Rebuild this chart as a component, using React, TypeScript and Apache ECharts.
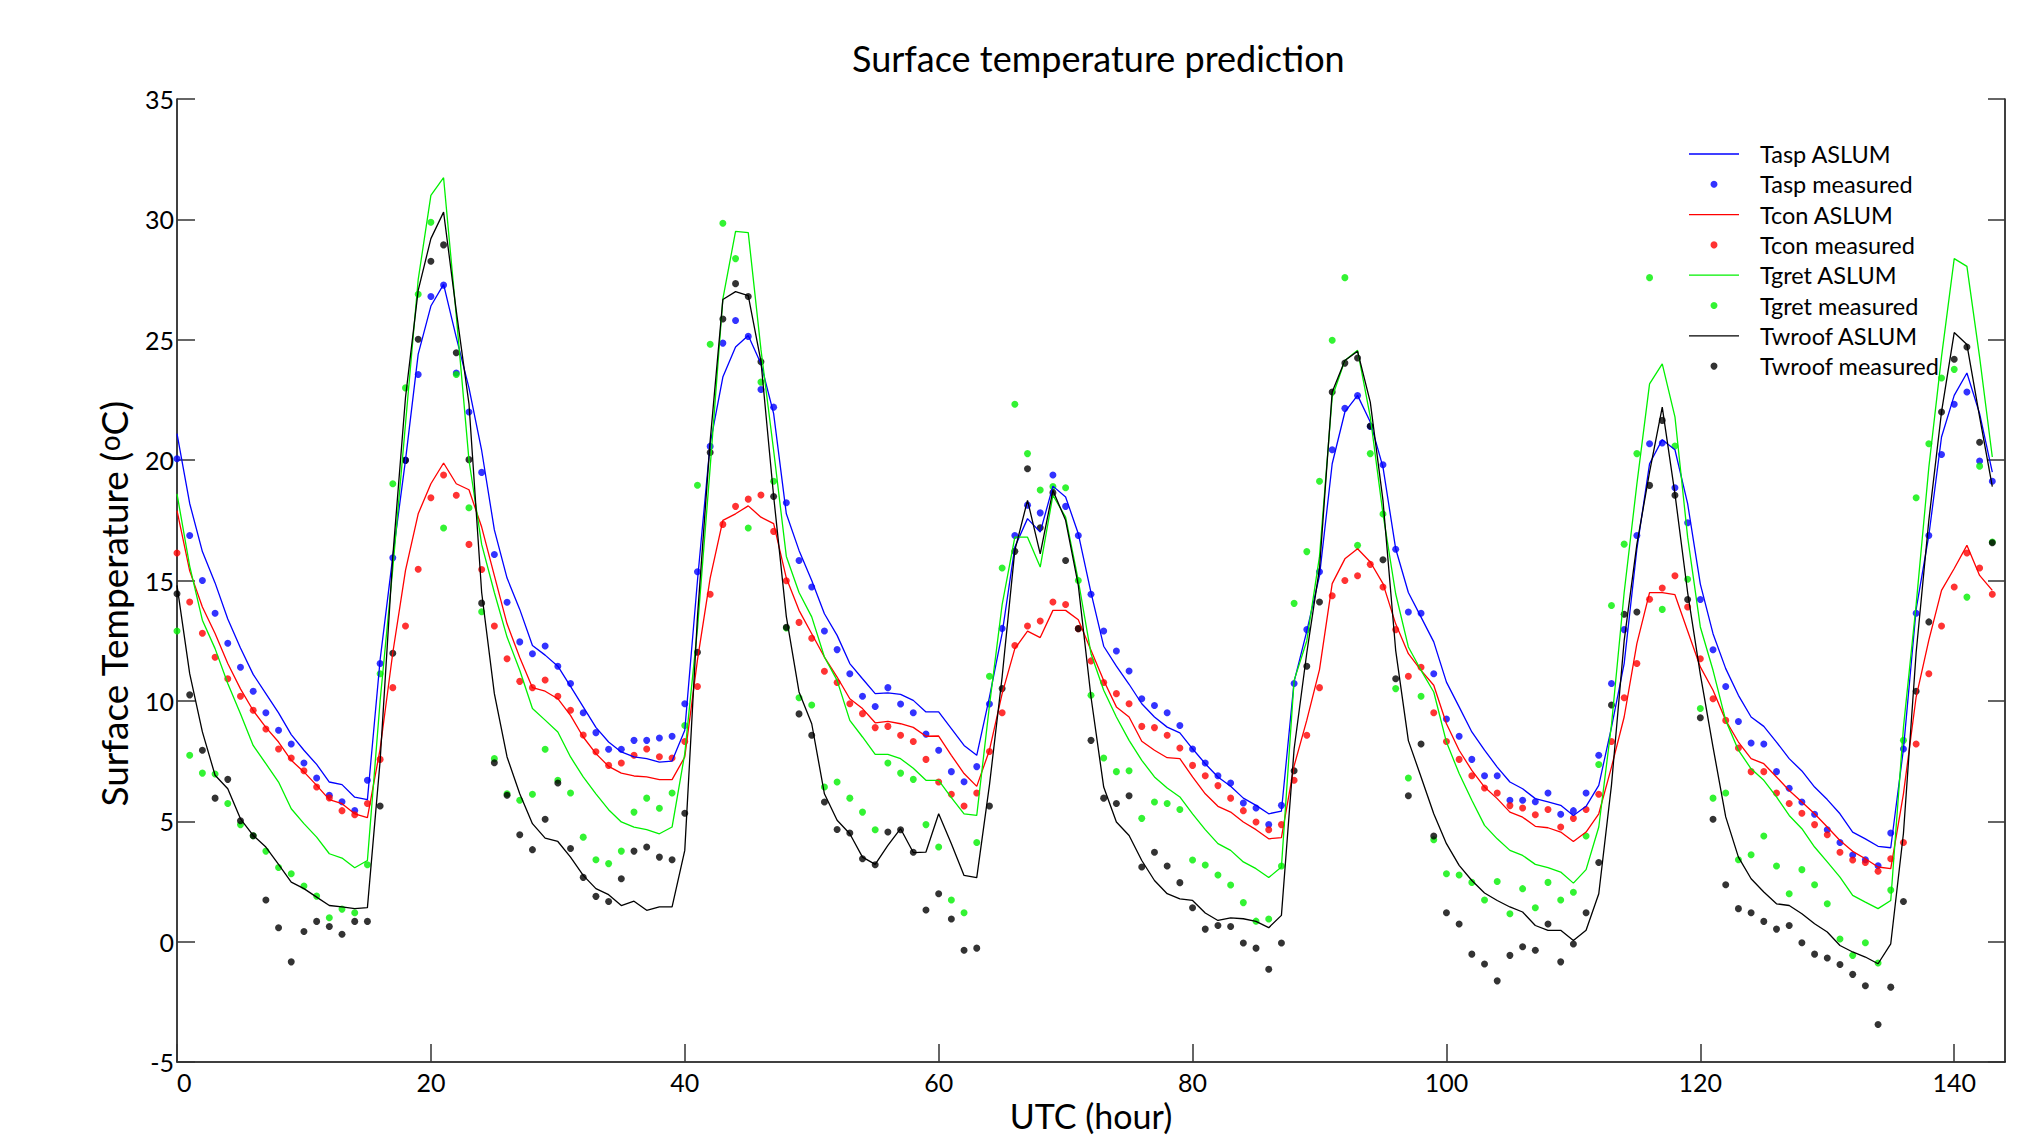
import React, { useEffect, useRef } from "react";
import * as echarts from "echarts";

// hour index 0..143
const hours: number[] = Array.from({ length: 144 }, (_, i) => i);

const xTicks = [0, 20, 40, 60, 80, 100, 120, 140];
const yTicks = [-5, 0, 5, 10, 15, 20, 25, 30, 35];

const taspAslum = [
  21.1, 18.2, 16.2, 14.9, 13.4, 12.2, 11.1, 10.3, 9.5, 8.6,
  7.95, 7.36, 6.63, 6.52, 6.0, 5.9, 11.7, 16.0, 20.0, 24.4,
  26.4, 27.3, 25.1, 23.0, 20.4, 17.1, 15.1, 13.8, 12.3, 11.9,
  11.44, 10.6, 9.75, 8.9, 8.29, 7.88, 7.67, 7.6, 7.46, 7.5,
  8.78, 15.0, 20.68, 23.45, 24.7, 25.18, 24.0, 21.93, 17.77, 16.25,
  15.0, 13.62, 12.72, 11.55, 10.92, 10.3, 10.33, 10.27, 10.02, 9.54,
  9.54, 8.85, 8.15, 7.74, 10.16, 12.8, 16.39, 17.57, 17.01, 18.92,
  18.47, 16.94, 14.5, 12.27, 11.44, 10.69, 9.88, 9.33, 8.91, 8.67,
  8.01, 7.39, 6.84, 6.45, 5.96, 5.66, 5.31, 5.42, 10.8, 12.9,
  15.2, 19.85, 22.0, 22.69, 21.58, 19.71, 16.32, 14.5, 13.48, 12.45,
  10.78, 9.75, 8.71, 7.95, 7.25, 6.63, 6.35, 5.94, 5.8, 5.66,
  5.24, 5.62, 6.49, 8.9, 11.55, 16.3, 19.85, 20.85, 20.43, 18.19,
  14.85, 12.79, 11.34, 10.23, 9.33, 8.94, 8.29, 7.6, 7.09, 6.42,
  5.9, 5.31, 4.55, 4.27, 3.96, 3.9, 8.0, 13.8, 16.87, 20.96,
  22.69, 23.62, 21.93, 19.5,
];

const taspMeasured = [
  20.06, 16.87, 15.0, 13.64, 12.39, 11.4, 10.4, 9.51, 8.78, 8.21,
  7.42, 6.8, 6.08, 5.81, 5.45, 6.7, 11.55, 15.94, 20.0, 23.56,
  26.8, 27.27, 23.62, 22.0, 19.49, 16.08, 14.1, 12.45, 11.96, 12.28,
  11.44, 10.72, 9.51, 8.68, 7.99, 7.99, 8.36, 8.36, 8.46, 8.53,
  9.88, 15.36, 20.57, 24.86, 25.8, 25.14, 22.93, 22.2, 18.23, 15.83,
  14.73, 12.9, 12.13, 11.13, 10.19, 9.77, 10.55, 9.87, 9.51, 8.62,
  7.95, 7.06, 6.64, 7.27, 9.87, 13.01, 16.87, 18.13, 17.81, 19.38,
  18.08, 16.87, 14.43, 12.9, 12.07, 11.24, 10.09, 9.81, 9.51, 8.98,
  8.0, 7.42, 6.89, 6.59, 5.76, 5.55, 4.86, 5.66, 10.72, 12.96,
  15.36, 20.43, 22.15, 22.68, 21.4, 19.81, 16.3, 13.69, 13.64, 11.13,
  9.25, 8.53, 7.57, 6.89, 6.89, 5.87, 5.87, 5.81, 6.17, 5.29,
  5.44, 6.17, 7.74, 10.72, 12.96, 16.87, 20.68, 20.71, 18.85, 17.4,
  14.21, 12.12, 10.6, 9.14, 8.25, 8.21, 7.06, 6.37, 5.8, 5.29,
  4.65, 4.12, 3.6, 3.4, 3.15, 4.51, 8.0, 13.64, 16.87, 20.23,
  22.32, 22.83, 19.96, 19.12,
];

const tconAslum = [
  17.9, 15.4, 13.9, 12.8, 11.55, 10.5, 9.6, 8.9, 8.29, 7.53,
  7.05, 6.49, 5.9, 5.73, 5.31, 5.15, 8.0, 12.0, 15.42, 17.77,
  19.02, 19.88, 19.02, 18.77, 17.22, 15.2, 13.2, 11.8, 10.55, 10.4,
  10.09, 9.4, 8.5, 7.81, 7.28, 7.0, 6.88, 6.84, 6.73, 6.73,
  7.67, 11.7, 15.1, 17.5, 17.77, 18.1, 17.63, 17.36, 15.1, 13.76,
  12.79, 11.82, 10.99, 10.09, 9.68, 9.09, 9.15, 9.05, 8.9, 8.53,
  8.54, 7.74, 6.98, 6.45, 7.95, 10.3, 12.17, 12.9, 12.63, 13.76,
  13.76, 13.37, 12.1, 10.85, 9.75, 9.33, 8.32, 7.95, 7.64, 7.6,
  6.84, 6.14, 5.62, 5.38, 4.97, 4.65, 4.27, 4.32, 7.3, 9.2,
  11.3, 14.87, 15.9, 16.32, 15.77, 14.87, 13.2, 11.96, 11.27, 10.65,
  9.05, 7.95, 7.11, 6.42, 5.94, 5.38, 5.17, 4.79, 4.73, 4.55,
  4.16, 4.55, 5.31, 7.25, 9.33, 12.38, 14.5, 14.5, 14.41, 12.9,
  11.41, 10.44, 9.19, 8.29, 7.6, 7.39, 6.84, 6.28, 5.8, 5.31,
  4.76, 4.2, 3.75, 3.44, 3.1, 3.03, 6.14, 10.16, 12.52, 14.59,
  15.5, 16.46, 15.21, 14.59,
];

const tconMeasured = [
  16.14, 14.11, 12.81, 11.81, 10.92, 10.19, 9.61, 8.83, 8.0, 7.63,
  7.1, 6.42, 5.97, 5.44, 5.27, 5.74, 7.57, 10.55, 13.11, 15.47,
  18.44, 19.38, 18.54, 16.5, 15.46, 13.11, 11.75, 10.81, 10.55, 10.87,
  10.19, 9.61, 8.58, 7.89, 7.32, 7.42, 7.74, 8.0, 7.68, 7.63,
  8.31, 10.6, 14.43, 17.33, 18.08, 18.38, 18.55, 17.04, 14.99, 13.26,
  12.6, 11.23, 10.76, 9.88, 9.47, 8.89, 8.94, 8.57, 8.31, 7.57,
  6.63, 6.12, 5.63, 6.17, 7.9, 9.51, 12.3, 13.11, 13.32, 14.11,
  14.0, 13.0, 11.66, 10.76, 10.3, 9.88, 8.94, 8.89, 8.57, 8.04,
  7.32, 6.89, 6.48, 5.96, 5.44, 4.97, 4.65, 4.86, 6.7, 8.57,
  10.55, 14.37, 15.0, 15.2, 15.67, 14.73, 12.96, 11.02, 11.4, 9.51,
  8.31, 7.57, 6.89, 6.38, 6.17, 5.65, 5.55, 5.27, 5.49, 4.76,
  5.12, 5.49, 6.12, 8.31, 10.13, 11.55, 14.22, 14.69, 15.2, 13.9,
  11.75, 10.09, 9.19, 8.04, 7.06, 7.06, 6.17, 5.74, 5.33, 4.86,
  4.44, 3.71, 3.39, 3.29, 2.92, 3.44, 4.12, 8.21, 11.13, 13.11,
  14.73, 16.14, 15.52, 14.43,
];

const tgretAslum = [
  18.6, 15.6, 13.35, 12.17, 10.72, 9.47, 8.15, 7.39, 6.63, 5.52,
  4.9, 4.34, 3.65, 3.47, 3.07, 3.37, 10.0, 15.5, 21.5, 27.5,
  31.0, 31.73, 26.0, 20.0, 16.5, 14.5, 12.65, 11.27, 9.68, 9.2,
  8.71, 7.67, 6.84, 6.14, 5.48, 4.97, 4.76, 4.65, 4.48, 4.76,
  7.81, 13.0, 19.7, 26.7, 29.5, 29.45, 24.6, 20.4, 16.0, 14.5,
  13.49, 11.82, 10.85, 9.19, 8.5, 7.78, 7.78, 7.6, 7.2, 6.7,
  6.7, 5.98, 5.31, 5.24, 9.8, 14.0, 16.8, 16.8, 15.56, 18.54,
  17.63, 15.0, 11.96, 10.44, 9.33, 8.36, 7.53, 6.84, 6.38, 6.01,
  5.31, 4.65, 4.07, 3.79, 3.31, 3.03, 2.66, 3.1, 10.85, 12.5,
  16.0, 22.62, 24.14, 24.56, 21.8, 17.77, 14.45, 12.24, 11.27, 10.37,
  8.29, 6.98, 5.87, 4.83, 4.27, 3.79, 3.58, 3.21, 3.07, 2.89,
  2.43, 2.99, 4.76, 9.0, 14.5, 19.0, 23.17, 24.0, 21.8, 16.8,
  13.07, 11.27, 9.19, 7.95, 7.18, 6.7, 6.01, 5.24, 4.69, 3.93,
  3.31, 2.68, 1.92, 1.64, 1.37, 1.71, 8.9, 14.0, 19.7, 24.3,
  28.37, 28.05, 24.28, 20.13,
];

const tgretMeasured = [
  12.9, 7.74, 7.0, 6.96, 5.74, 4.86, 4.4, 3.76, 3.08, 2.82,
  2.31, 1.89, 0.99, 1.35, 1.2, 3.19, 11.13, 19.02, 23.0, 26.89,
  29.88, 17.18, 23.56, 18.02, 13.7, 7.6, 6.14, 5.87, 6.12, 7.99,
  6.7, 6.17, 4.34, 3.4, 3.24, 3.76, 5.38, 5.96, 5.54, 6.17,
  8.98, 18.96, 24.81, 29.84, 28.37, 17.18, 23.24, 19.12, 13.03, 10.13,
  9.83, 6.42, 6.63, 5.96, 5.38, 4.65, 7.42, 7.0, 6.74, 4.86,
  3.93, 1.73, 1.2, 4.12, 11.02, 15.52, 22.32, 20.27, 18.76, 18.9,
  18.85, 15.0, 10.23, 7.63, 7.06, 7.1, 5.12, 5.8, 5.74, 5.49,
  3.39, 3.18, 2.77, 2.35, 1.62, 0.85, 0.94, 3.14, 14.05, 16.2,
  19.12, 24.98, 27.58, 16.46, 20.27, 17.76, 10.51, 6.8, 10.19, 4.23,
  2.82, 2.77, 2.46, 1.73, 2.5, 1.16, 2.2, 1.41, 2.46, 1.73,
  2.05, 4.39, 7.36, 13.96, 16.51, 20.27, 27.58, 13.8, 20.59, 15.05,
  9.68, 5.96, 6.17, 3.4, 3.61, 4.39, 3.14, 1.99, 2.99, 2.36,
  1.57, 0.11, -0.57, -0.05, -0.89, 2.14, 8.36, 18.44, 20.68, 23.41,
  23.77, 14.31, 19.75, 16.6,
];

const twroofAslum = [
  14.8, 11.13, 8.71, 6.91, 6.35, 5.1, 4.41, 3.93, 3.21, 2.47,
  2.2, 1.85, 1.5, 1.44, 1.37, 1.41, 7.5, 16.0, 22.6, 27.05,
  29.2, 30.3, 26.2, 22.34, 14.5, 10.3, 7.67, 6.14, 4.9, 4.3,
  4.16, 3.51, 2.75, 2.2, 1.95, 1.5, 1.68, 1.3, 1.44, 1.44,
  3.79, 13.5, 20.8, 26.67, 27.0, 26.83, 24.1, 18.5, 13.5, 10.37,
  9.05, 6.14, 5.04, 4.48, 3.51, 3.21, 4.0, 4.69, 3.7, 3.72,
  5.31, 4.07, 2.75, 2.66, 6.5, 11.0, 16.25, 18.33, 16.11, 18.74,
  17.5, 14.8, 10.16, 6.42, 4.97, 4.41, 3.37, 2.54, 1.99, 1.78,
  1.71, 1.19, 0.88, 0.99, 0.95, 0.84, 0.58, 1.09, 8.0, 12.0,
  15.5, 22.83, 24.14, 24.52, 22.41, 18.33, 12.1, 8.35, 6.84, 5.31,
  4.07, 3.17, 2.54, 2.02, 1.71, 1.44, 1.23, 0.67, 0.47, 0.47,
  0.05, 0.47, 1.99, 6.5, 12.5, 16.5, 19.5, 22.2, 18.6, 14.5,
  11.1, 8.08, 5.18, 3.51, 2.61, 2.06, 1.57, 1.5, 1.16, 0.74,
  0.4, -0.16, -0.43, -0.64, -0.92, -0.09, 4.5, 12.0, 17.5, 22.0,
  25.3, 24.8, 21.8, 18.9,
];

const twroofMeasured = [
  14.45, 10.25, 7.95, 5.96, 6.74, 5.02, 4.4, 1.73, 0.58, -0.84,
  0.42, 0.84, 0.63, 0.31, 0.84, 0.84, 5.63, 11.98, 19.99, 25.02,
  28.26, 28.94, 24.46, 20.02, 14.06, 7.43, 6.08, 4.44, 3.82, 5.08,
  6.59, 3.87, 2.67, 1.88, 1.67, 2.61, 3.76, 3.93, 3.51, 3.4,
  5.33, 12.02, 20.32, 25.86, 27.33, 26.8, 24.09, 18.49, 13.06, 9.46,
  8.57, 5.8, 4.66, 4.51, 3.44, 3.19, 4.55, 4.65, 3.71, 1.31,
  1.99, 0.94, -0.36, -0.27, 5.63, 10.51, 16.21, 19.64, 17.19, 18.65,
  15.83, 13.0, 8.36, 5.96, 5.74, 6.06, 3.1, 3.71, 3.14, 2.45,
  1.41, 0.52, 0.67, 0.63, -0.06, -0.27, -1.15, -0.06, 7.1, 11.44,
  14.11, 22.83, 24.03, 24.24, 21.42, 15.86, 10.92, 6.06, 8.21, 4.39,
  1.2, 0.73, -0.52, -0.93, -1.63, -0.57, -0.21, -0.36, 0.73, -0.84,
  -0.1, 1.2, 3.29, 9.83, 13.6, 13.69, 18.95, 21.65, 18.54, 14.21,
  9.3, 5.08, 2.36, 1.37, 1.2, 0.84, 0.52, 0.67, -0.05, -0.52,
  -0.68, -0.95, -1.36, -1.83, -3.44, -1.89, 1.67, 10.4, 13.28, 22.0,
  24.19, 24.7, 20.74, 16.57,
];

const seriesNames = [
  "Tasp ASLUM",
  "Tasp measured",
  "Tcon ASLUM",
  "Tcon measured",
  "Tgret ASLUM",
  "Tgret measured",
  "Twroof ASLUM",
  "Twroof measured",
];
const seriesColors = ["#0000ff", "#0000ff", "#ff0000", "#ff0000", "#00f000", "#00f000", "#000000", "#000000"];
const seriesValues = [
  taspAslum,
  taspMeasured,
  tconAslum,
  tconMeasured,
  tgretAslum,
  tgretMeasured,
  twroofAslum,
  twroofMeasured,
];

const FONT = "Lato";
const LINE_ICON = "path://M0,0H60V1.6H0Z";

export default function App() {
  const ref = useRef<HTMLDivElement>(null);

  useEffect(() => {
    if (!ref.current) return;
    document.body.style.overflow = "hidden";
    const chart = echarts.init(ref.current, undefined, { renderer: "svg" });

    const series = seriesNames.map((name, si) => {
      const isLine = si % 2 === 0;
      const data = seriesValues[si].map((v, i) => [hours[i], v]);
      if (isLine) {
        return {
          name,
          type: "line",
          data,
          symbol: "none",
          showSymbol: false,
          silent: true,
          lineStyle: { color: seriesColors[si], width: 1.3 },
          itemStyle: { color: seriesColors[si] },
          emphasis: { disabled: true },
        };
      }
      return {
        name,
        type: "scatter",
        data,
        symbol: "circle",
        symbolSize: 7,
        clip: false,
        silent: true,
        itemStyle: { color: seriesColors[si] },
        emphasis: { disabled: true },
      };
    });

    const option: any = {
      animation: false,
      backgroundColor: "#ffffff",
      textStyle: { fontFamily: FONT },
      title: {
        text: "Surface temperature prediction",
        left: 852,
        top: 40,
        padding: 0,
        textStyle: { fontFamily: FONT, fontSize: 36, fontWeight: "normal", color: "#000" },
      },
      grid: { left: 177, right: 26, top: 99, bottom: 73, containLabel: false, outerBoundsMode: "none" },
      legend: {
        orient: "vertical",
        left: 1684,
        top: 137,
        itemWidth: 50,
        itemHeight: 7,
        itemGap: 6.3,
        selectedMode: false,
        textStyle: { fontFamily: FONT, fontSize: 23.5, color: "#000", padding: [0, 0, 0, 16] },
        data: seriesNames.map((n, i) => (i % 2 === 0 ? { name: n, icon: LINE_ICON } : { name: n, icon: "circle" })),
      },
      xAxis: {
        type: "value",
        min: xTicks[0],
        max: 144,
        interval: xTicks[1] - xTicks[0],
        name: "UTC (hour)",
        nameLocation: "middle",
        nameGap: 25,
        nameTextStyle: { fontFamily: FONT, fontSize: 34, color: "#000" },
        axisLine: { show: true, onZero: false, lineStyle: { color: "#000", width: 1.5 } },
        axisTick: { show: true, inside: true, length: 18, lineStyle: { color: "#333", width: 1.5 } },
        axisLabel: {
          showMaxLabel: false,
          alignMinLabel: "left",
          fontFamily: FONT,
          fontSize: 25,
          color: "#000",
          margin: 7,
          formatter: (v: number) => (xTicks.includes(v) ? String(v) : ""),
        },
        splitLine: { show: false },
      },
      yAxis: [
        {
          type: "value",
          min: yTicks[0],
          max: yTicks[yTicks.length - 1],
          interval: yTicks[1] - yTicks[0],
          position: "left",
          axisLine: { show: true, onZero: false, lineStyle: { color: "#000", width: 1.5 } },
          axisTick: { show: true, inside: true, length: 18, lineStyle: { color: "#333", width: 1.5 } },
          axisLabel: { fontFamily: FONT, fontSize: 25, color: "#000", margin: 3 },
          splitLine: { show: false },
        },
        {
          type: "value",
          min: yTicks[0],
          max: yTicks[yTicks.length - 1],
          interval: yTicks[1] - yTicks[0],
          position: "right",
          axisLine: { show: true, onZero: false, lineStyle: { color: "#000", width: 1.5 } },
          axisTick: { show: true, inside: true, length: 17, lineStyle: { color: "#333", width: 1.5 } },
          axisLabel: { show: false },
          splitLine: { show: false },
        },
      ],
      graphic: [
        {
          type: "text",
          x: 113,
          y: 604,
          rotation: Math.PI / 2,
          silent: true,
          style: {
            text: "{a|Surface Temperature (}{s|o}{a|C)}",
            align: "center",
            verticalAlign: "middle",
            fill: "#000",
            rich: {
              a: { fontFamily: FONT, fontSize: 37, fill: "#000" },
              s: { fontFamily: FONT, fontSize: 28, fill: "#000", verticalAlign: "top" },
            },
          },
        },
      ],
      series,
    };

    chart.setOption(option);
    return () => chart.dispose();
  }, []);

  return (
    <div
      style={{
        position: "absolute",
        left: 0,
        top: 0,
        width: 2031,
        height: 1135,
        overflow: "hidden",
        background: "#fff",
      }}
    >
      <div ref={ref} style={{ width: 2031, height: 1135 }} />
    </div>
  );
}
